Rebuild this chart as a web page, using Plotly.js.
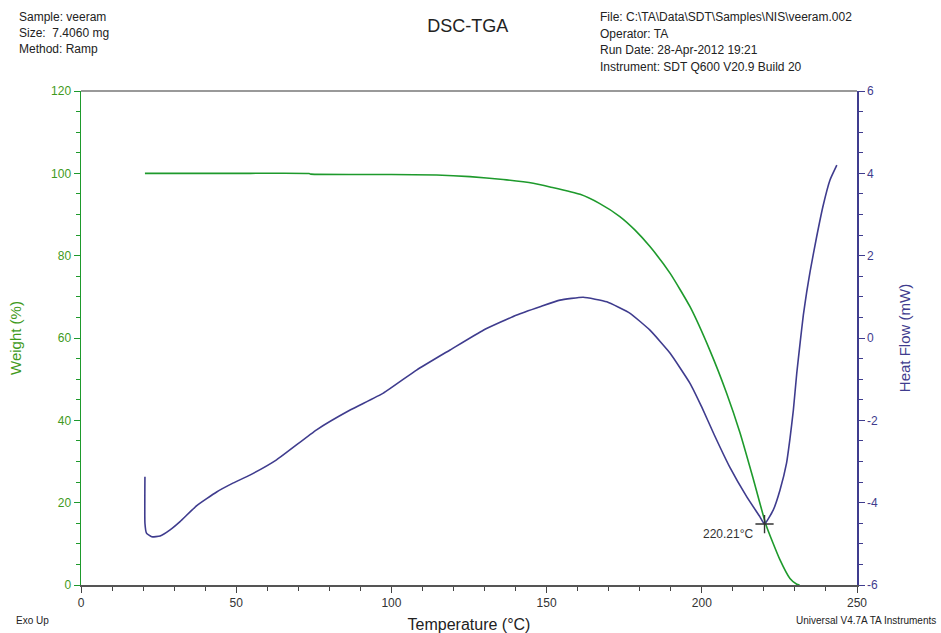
<!DOCTYPE html>
<html>
<head>
<meta charset="utf-8">
<script src="https://cdn.plot.ly/plotly-3.0.1.min.js"></script>
<style>html,body{margin:0;padding:0;background:#fff;}#chart{width:941px;height:633px;}</style>
</head>
<body>
<div id="chart"></div>
<script>
// TGA: weight (%) vs temperature (°C)
const tgaTemp = [20.6, 40, 54.4, 73.5, 74, 100, 114.6, 125.3, 136, 145.7, 151.1, 160.8, 167, 173.6, 178.5, 183.3, 189.8, 196.2, 202.6, 208, 212.3, 216.5, 220.7, 225.2, 228.4, 230.6, 231.5];
const tgaWeight = [100, 100, 100, 99.95, 99.8, 99.7, 99.6, 99.2, 98.5, 97.6, 96.7, 94.9, 92.7, 89.5, 86.2, 82.2, 75.7, 67.6, 57.0, 46.6, 37.0, 26.0, 14.6, 6.1, 1.6, 0.2, 0];
// DSC: heat flow (mW) vs temperature (°C)
const dscTemp = [20.6, 20.6, 21.1, 22.8, 25.5, 28.7, 31.9, 37.3, 43.7, 49.1, 54.4, 63.0, 75.9, 86.7, 97.4, 108.1, 118.9, 129.6, 140.4, 147.9, 154.3, 161.8, 169.4, 176.9, 183.3, 189.8, 196.2, 200.0, 204.0, 209.1, 214.5, 218.7, 220.21, 223.0, 225.2, 227.3, 228.4, 229.5, 230.6, 231.7, 232.7, 233.8, 234.9, 237.0, 239.1, 241.3, 243.5];
const dscHeatFlow = [-3.37, -4.50, -4.74, -4.83, -4.81, -4.66, -4.46, -4.07, -3.74, -3.52, -3.33, -2.96, -2.23, -1.75, -1.34, -0.78, -0.29, 0.19, 0.56, 0.76, 0.92, 0.99, 0.88, 0.60, 0.19, -0.37, -1.10, -1.68, -2.35, -3.15, -3.86, -4.34, -4.52, -4.18, -3.69, -3.04, -2.45, -1.75, -0.85, -0.10, 0.55, 1.12, 1.62, 2.46, 3.22, 3.84, 4.20];
// Peak marker
const peakTemp = [220.21];
const peakHeatFlow = [-4.52];
const peakLabel = "220.21°C";

// Tick labels
const weightTicks = [0, 20, 40, 60, 80, 100, 120];
const heatTicks = [-6, -4, -2, 0, 2, 4, 6];
const heatTickText = ["-6", "-4", "-2", "0", "2", "4", "6"];

const headerLeft = ["Sample: veeram", "Size:  7.4060 mg", "Method: Ramp"];
const headerRight = ["File: C:\\TA\\Data\\SDT\\Samples\\NIS\\veeram.002", "Operator: TA", "Run Date: 28-Apr-2012 19:21", "Instrument: SDT Q600 V20.9 Build 20"];

const GREEN = '#1e9a2c';
const GREENTXT = '#3f9a1c';
const PURPLE = '#3f3c8e';
const FONT = 'Liberation Sans, Arial, sans-serif';

const traces = [
  {x: tgaTemp, y: tgaWeight, type: 'scatter', mode: 'lines', line: {color: GREEN, width: 1.6, shape: 'spline', smoothing: 0.5}, yaxis: 'y', hoverinfo: 'skip'},
  {x: dscTemp, y: dscHeatFlow, type: 'scatter', mode: 'lines', line: {color: PURPLE, width: 1.6, shape: 'spline', smoothing: 0.4}, yaxis: 'y2', hoverinfo: 'skip'},
  {x: peakTemp, y: peakHeatFlow, type: 'scatter', mode: 'markers', yaxis: 'y2',
   marker: {symbol: 'cross-thin', size: 13, line: {width: 1.4, color: '#333'}}, hoverinfo: 'skip'}
];

const annotations = [];
headerLeft.forEach((t, i) => annotations.push({text: t, xref: 'paper', yref: 'paper', x: -0.083, y: 1 + (91 - 17 - i * 16) / 494, xanchor: 'left', yanchor: 'middle', showarrow: false, font: {size: 12, color: '#222', family: FONT}}));
headerRight.forEach((t, i) => annotations.push({text: t, xref: 'paper', yref: 'paper', x: (598 - 81) / 776, y: 1 + (91 - 17 - i * 16.5) / 494, xanchor: 'left', yanchor: 'middle', showarrow: false, font: {size: 12, color: '#222', family: FONT}}));
annotations.push({text: 'Exo Up', xref: 'paper', yref: 'paper', x: (14 - 81) / 776, y: -(620 - 585) / 494, xanchor: 'left', yanchor: 'middle', showarrow: false, font: {size: 10, color: '#222', family: FONT}});
annotations.push({text: 'Universal V4.7A TA Instruments', xref: 'paper', yref: 'paper', x: (938 - 81) / 776, y: -(620 - 585) / 494, xanchor: 'right', yanchor: 'middle', showarrow: false, font: {size: 10, color: '#222', family: FONT}});
annotations.push({text: peakLabel, x: peakTemp[0], y: peakHeatFlow[0], xref: 'x', yref: 'y2', xanchor: 'right', yanchor: 'top', xshift: -9, yshift: -1, showarrow: false, font: {size: 12, color: '#333', family: FONT}});

const layout = {
  width: 941, height: 633,
  margin: {l: 81, r: 84, t: 91, b: 48},
  paper_bgcolor: '#fff', plot_bgcolor: '#fff',
  showlegend: false,
  font: {family: FONT},
  title: {text: 'DSC-TGA', x: 0.497, xanchor: 'center', y: 0.96, yanchor: 'middle', font: {size: 18, color: '#222', family: FONT}},
  xaxis: {
    range: [0, 250], dtick: 50, showgrid: false, zeroline: false,
    showline: true, linecolor: '#555', linewidth: 1.5,
    ticks: 'outside', ticklen: 6, tickcolor: '#444', tickwidth: 1,
    minor: {dtick: 10, ticks: 'outside', ticklen: 4, tickcolor: '#444'},
    tickfont: {size: 12, color: '#333', family: FONT},
    title: {text: 'Temperature (°C)', font: {size: 16, color: '#222', family: FONT}, standoff: 10}
  },
  yaxis: {
    range: [0, 120], tickmode: 'array', tickvals: weightTicks, showgrid: false, zeroline: false,
    showline: true, linecolor: GREEN, linewidth: 1.5,
    ticks: 'outside', ticklen: 6, tickcolor: GREEN, tickwidth: 1,
    minor: {dtick: 5, ticks: 'outside', ticklen: 4, tickcolor: GREEN},
    tickfont: {size: 12, color: GREENTXT, family: FONT},
    title: {text: 'Weight (%)', font: {size: 15, color: GREENTXT, family: FONT}, standoff: 26}
  },
  yaxis2: {
    range: [-6, 6], tickmode: 'array', tickvals: heatTicks, ticktext: heatTickText,
    overlaying: 'y', side: 'right', showgrid: false, zeroline: false,
    showline: true, linecolor: PURPLE, linewidth: 1.5,
    ticks: 'outside', ticklen: 6, tickcolor: PURPLE, tickwidth: 1,
    minor: {dtick: 0.5, ticks: 'outside', ticklen: 4, tickcolor: PURPLE},
    tickfont: {size: 12, color: PURPLE, family: FONT},
    title: {text: 'Heat Flow (mW)', font: {size: 15, color: PURPLE, family: FONT}, standoff: 22}
  },
  shapes: [
    {type: 'line', xref: 'paper', yref: 'paper', x0: 0, x1: 1, y0: 1, y1: 1, line: {color: '#777', width: 1.5}}
  ],
  annotations: annotations
};

Plotly.newPlot('chart', traces, layout, {staticPlot: true, displayModeBar: false});
</script>
</body>
</html>
